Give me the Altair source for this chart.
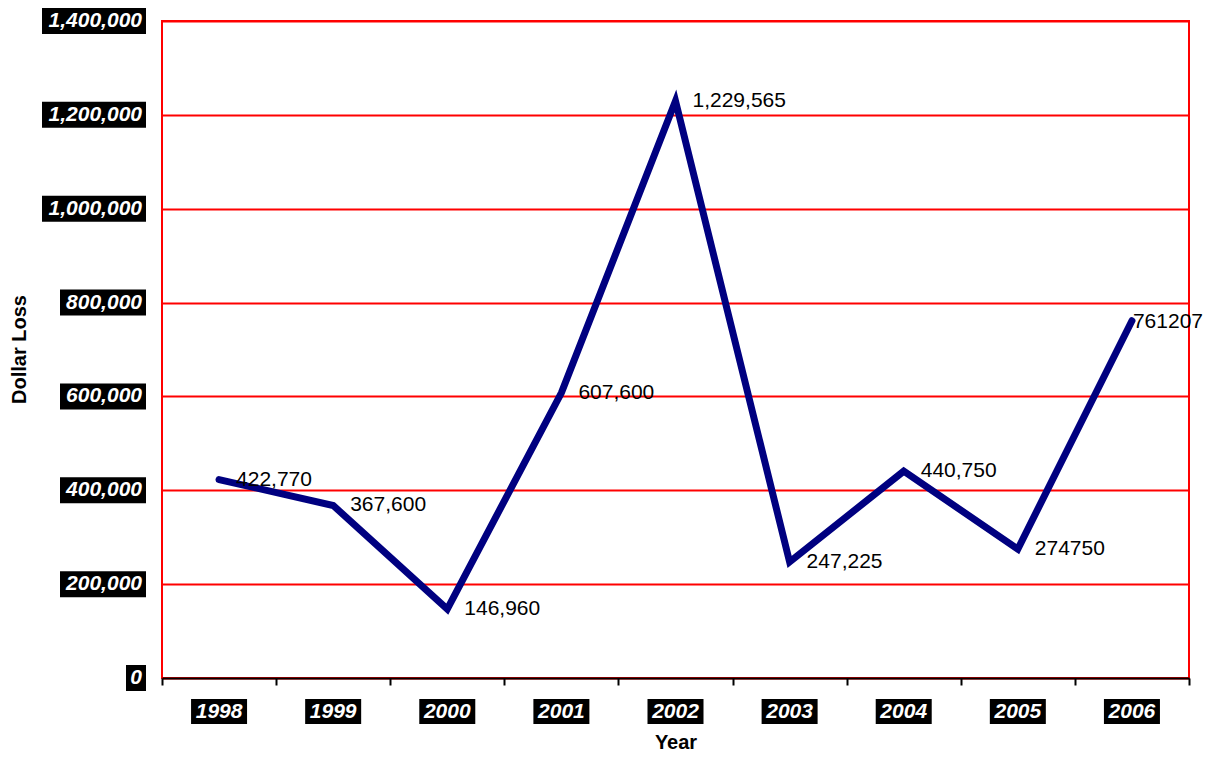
import altair as alt
import pandas as pd

years = [1998, 1999, 2000, 2001, 2002, 2003, 2004, 2005, 2006]
losses = [422770, 367600, 146960, 607600, 1229565, 247225, 440750, 274750, 761207]
point_labels = ["422,770", "367,600", "146,960", "607,600", "1,229,565",
                "247,225", "440,750", "274750", "761207"]
y_ticks = [0, 200000, 400000, 600000, 800000, 1000000, 1200000, 1400000]
y_tick_labels = ["0", "200,000", "400,000", "600,000", "800,000",
                 "1,000,000", "1,200,000", "1,400,000"]

FONT = "Liberation Sans"

df = pd.DataFrame({"year": years, "loss": losses, "label": point_labels,
                   "ylab": [str(y) for y in years]})
df_main = df.iloc[:-1]
df_last = df.iloc[-1:]

yt = pd.DataFrame({"val": y_ticks, "lab": y_tick_labels})
yt["boxw"] = yt["lab"].apply(lambda s: 12 * sum(c.isdigit() for c in s) + 6 * s.count(",") + 8)
yt["xl"] = -16 - yt["boxw"]

xscale = alt.Scale(domain=[1997.5, 2006.5], nice=False, zero=False)
yscale = alt.Scale(domain=[0, 1400000], nice=False)

x_axis = alt.Axis(values=[1997.5 + i for i in range(10)], labels=False, grid=False,
                  ticks=True, tickColor="black", tickSize=7, tickWidth=2,
                  domain=True, domainColor="black", domainWidth=2,
                  title="Year", titleFont=FONT, titleFontSize=20, titleFontWeight="bold",
                  titleColor="black", titleY=74, titleBaseline="bottom")
y_axis = alt.Axis(values=y_ticks, labels=False, ticks=False, domain=False,
                  grid=True, gridColor="red", gridWidth=2, gridOpacity=1,
                  title="Dollar Loss", titleFont=FONT, titleFontSize=20,
                  titleFontWeight="bold", titleColor="black",
                  titleX=-143, titleY=328, titleAngle=270,
                  titleBaseline="middle", titleAlign="center")

line = alt.Chart(df).mark_line(color="#000080", strokeWidth=7, strokeCap="round").encode(
    x=alt.X("year:Q", scale=xscale, axis=x_axis),
    y=alt.Y("loss:Q", scale=yscale, axis=y_axis),
)

labels = alt.Chart(df_main).mark_text(align="left", baseline="middle", dx=17,
                                      fontSize=21, font=FONT, color="black").encode(
    x=alt.X("year:Q", scale=xscale),
    y=alt.Y("loss:Q", scale=yscale),
    text="label:N",
)
label_last = alt.Chart(df_last).mark_text(align="left", baseline="middle", dx=1, dy=1,
                                          fontSize=21, font=FONT, color="black").encode(
    x=alt.X("year:Q", scale=xscale),
    y=alt.Y("loss:Q", scale=yscale),
    text="label:N",
)

xbox = alt.Chart(df).mark_rect(color="black", xOffset=-28, x2Offset=28).encode(
    x=alt.X("year:Q", scale=xscale),
    x2="year:Q",
    y=alt.value(678),
    y2=alt.value(703),
)
xtext = alt.Chart(df).mark_text(align="center", baseline="middle", fontSize=21, font=FONT,
                                fontWeight="bold", fontStyle="italic", color="white").encode(
    x=alt.X("year:Q", scale=xscale),
    y=alt.value(691),
    text="ylab:N",
)

ybox = alt.Chart(yt).mark_rect(color="black", yOffset=-13, y2Offset=13).encode(
    x=alt.X("xl:Q", scale=None),
    x2=alt.value(-16),
    y=alt.Y("val:Q", scale=yscale),
    y2="val:Q",
)
ytext = alt.Chart(yt).mark_text(align="right", baseline="middle", fontSize=21, font=FONT,
                                fontWeight="bold", fontStyle="italic", color="white").encode(
    x=alt.value(-20),
    y=alt.Y("val:Q", scale=yscale),
    text="lab:N",
)

chart = alt.layer(line, labels, label_last, xbox, xtext, ybox, ytext).properties(
    width=1027, height=657,
    autosize=alt.AutoSizeParams(type="none"),
    padding={"left": 154, "top": 13, "right": 18, "bottom": 75},
).configure_view(stroke="red", strokeWidth=2)

chart.save("out.html", embed_options={"renderer": "svg", "actions": False})
